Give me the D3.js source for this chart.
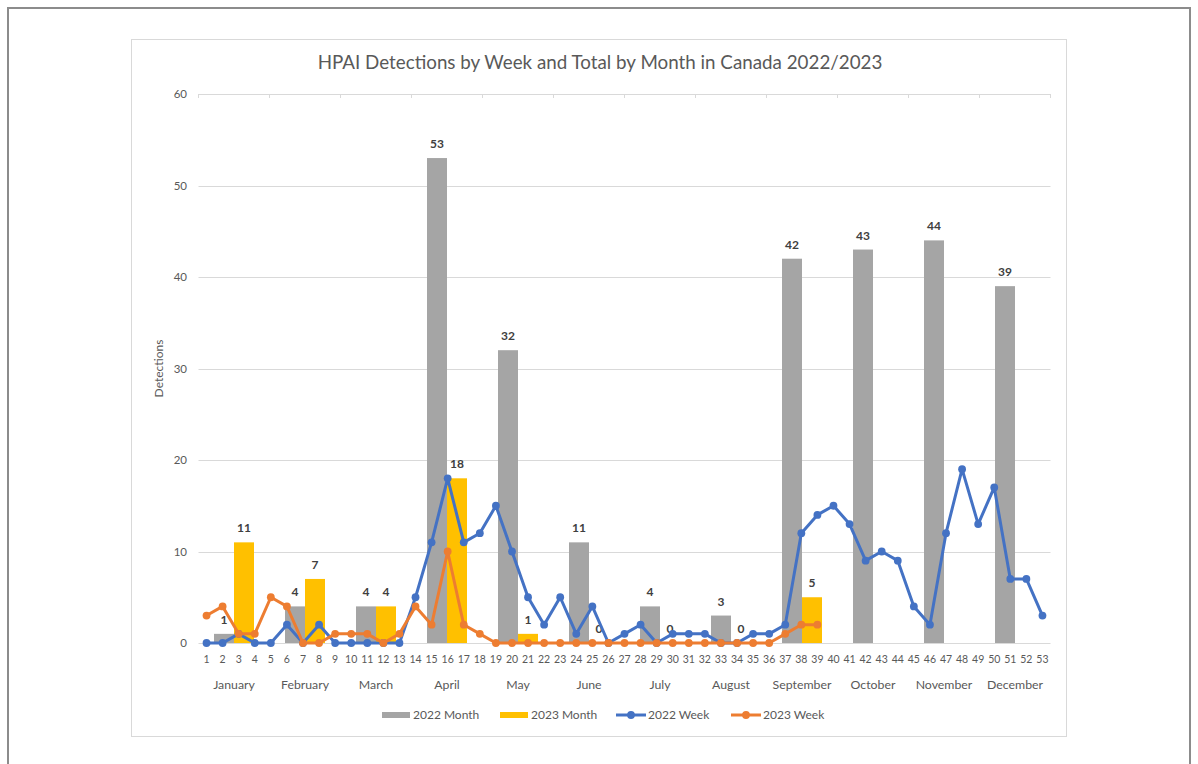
<!DOCTYPE html>
<html>
<head>
<meta charset="utf-8">
<title>HPAI Detections</title>
<script src="https://cdn.jsdelivr.net/npm/d3@7"></script>
<style>
  body { margin: 0; background: #fff; font-family: Lato, "Liberation Sans", sans-serif; }
  svg text { fill: #595959; }
</style>
</head>
<body>
<svg id="chart" width="1198" height="764"></svg>
<script>
// data
var months = ["January", "February", "March", "April", "May", "June", "July",
              "August", "September", "October", "November", "December"];
var month2022 = [1, 4, 4, 53, 32, 11, 4, 3, 42, 43, 44, 39];
var month2023 = [11, 7, 4, 18, 1, 0, 0, 0, 5, null, null, null];
var weeks = d3.range(1, 54);
var week2022 = [0, 0, 1, 0, 0, 2, 0, 2, 0, 0, 0, 0, 0, 5, 11, 18, 11, 12, 15, 10,
                5, 2, 5, 1, 4, 0, 1, 2, 0, 1, 1, 1, 0, 0, 1, 1, 2, 12, 14, 15,
                13, 9, 10, 9, 4, 2, 12, 19, 13, 17, 7, 7, 3];
var week2023 = [3, 4, 1, 1, 5, 4, 0, 0, 1, 1, 1, 0, 1, 4, 2, 10, 2, 1, 0, 0,
                0, 0, 0, 0, 0, 0, 0, 0, 0, 0, 0, 0, 0, 0, 0, 0, 1, 2, 2];
var yTicks = [0, 10, 20, 30, 40, 50, 60];

var colors = { g: "#A5A5A5", y: "#FFC000", b: "#4472C4", o: "#ED7D31" };

(function() {
var svg = d3.select("#chart");

// outer frame and chart area
svg.append("path").attr("d", "M8,764V8H1190V764")
  .attr("fill", "none").attr("stroke", "#8c8c8c").attr("stroke-width", 2);
svg.append("rect").attr("x", 131.5).attr("y", 39.5).attr("width", 935).attr("height", 697)
  .attr("fill", "#fff").attr("stroke", "#d9d9d9");

var pl = 198.5, pr = 1050.5, pt = 94, pb = 643;

var y = d3.scaleLinear().domain([0, 60]).range([pb, pt]);
var xm = d3.scaleBand().domain(months).range([pl, pr]);
var xs = d3.scaleBand().domain(["2022", "2023"]).range([0, xm.bandwidth()]).paddingOuter(0.775);
var xw = d3.scaleBand().domain(weeks).range([pl, pr]);
function wx(w) { return xw(w) + xw.bandwidth() / 2; }

// gridlines
svg.append("g").selectAll("line").data(yTicks).join("line")
  .attr("x1", pl).attr("x2", pr)
  .attr("y1", function(d) { return Math.round(y(d)) + 0.5; })
  .attr("y2", function(d) { return Math.round(y(d)) + 0.5; })
  .attr("stroke", "#d9d9d9");

// secondary axis tick marks on top line
var edges = months.map(function(m) { return xm(m); }).concat([pr]);
svg.append("g").selectAll("line").data(edges).join("line")
  .attr("x1", function(d) { return d; }).attr("x2", function(d) { return d; })
  .attr("y1", pt).attr("y2", pt + 4).attr("stroke", "#d9d9d9");

// y axis labels
svg.append("g").selectAll("text").data(yTicks).join("text")
  .attr("x", 187).attr("y", function(d) { return y(d) + 4; })
  .attr("text-anchor", "end").attr("font-size", 11.5).text(function(d) { return d; });

svg.append("text").attr("transform", "translate(163," + ((pt + pb) / 2) + ") rotate(-90)")
  .attr("text-anchor", "middle").attr("font-size", 12).text("Detections");

// title
svg.append("text").attr("x", 600).attr("y", 69).attr("text-anchor", "middle")
  .attr("font-size", 18.8).text("HPAI Detections by Week and Total by Month in Canada 2022/2023");

// month bars
var barData = [];
months.forEach(function(m, i) {
  barData.push({ m: m, s: "2022", v: month2022[i], c: colors.g });
  if (month2023[i] !== null) barData.push({ m: m, s: "2023", v: month2023[i], c: colors.y });
});
svg.append("g").selectAll("rect").data(barData).join("rect")
  .attr("x", function(d) { return xm(d.m) + xs(d.s); })
  .attr("width", xs.bandwidth())
  .attr("y", function(d) { return y(d.v); })
  .attr("height", function(d) { return pb - y(d.v); })
  .attr("fill", function(d) { return d.c; });

svg.append("g").selectAll("text").data(barData).join("text")
  .attr("x", function(d) { return xm(d.m) + xs(d.s) + xs.bandwidth() / 2; })
  .attr("y", function(d) { return y(d.v) - 10; })
  .attr("text-anchor", "middle").attr("font-size", 12).attr("font-weight", "bold")
  .style("fill", "#404040")
  .text(function(d) { return d.v; });

// weekly lines
function drawLine(vals, col) {
  var pts = vals.map(function(v, i) { return [wx(weeks[i]), y(v)]; });
  var g = svg.append("g");
  g.append("path").attr("d", d3.line()(pts)).attr("fill", "none")
    .attr("stroke", col).attr("stroke-width", 3).attr("stroke-linejoin", "round");
  g.selectAll("circle").data(pts).join("circle")
    .attr("cx", function(d) { return d[0]; }).attr("cy", function(d) { return d[1]; })
    .attr("r", 3.9).attr("fill", col);
}
drawLine(week2022, colors.b);
drawLine(week2023, colors.o);

// week labels and month labels
svg.append("g").selectAll("text").data(weeks).join("text")
  .attr("x", wx).attr("y", 663).attr("text-anchor", "middle").attr("font-size", 10.5)
  .text(function(d) { return d; });
svg.append("g").selectAll("text").data(months).join("text")
  .attr("x", function(d) { return xm(d) + xm.bandwidth() / 2; }).attr("y", 689)
  .attr("text-anchor", "middle").attr("font-size", 12.3).text(function(d) { return d; });

// legend
var legend = [
  { t: "2022 Month", c: colors.g, k: "bar", x: 382 },
  { t: "2023 Month", c: colors.y, k: "bar", x: 500 },
  { t: "2022 Week", c: colors.b, k: "line", x: 616 },
  { t: "2023 Week", c: colors.o, k: "line", x: 731 }
];
var lg = svg.append("g").selectAll("g").data(legend).join("g")
  .attr("transform", function(d) { return "translate(" + d.x + ",715)"; });
lg.filter(function(d) { return d.k === "bar"; }).append("rect")
  .attr("x", 0).attr("y", -3).attr("width", 28).attr("height", 6).attr("fill", function(d) { return d.c; });
lg.filter(function(d) { return d.k === "line"; }).append("line")
  .attr("x1", 0).attr("x2", 30).attr("stroke", function(d) { return d.c; }).attr("stroke-width", 3);
lg.filter(function(d) { return d.k === "line"; }).append("circle")
  .attr("cx", 15).attr("r", 3.9).attr("fill", function(d) { return d.c; });
lg.append("text").attr("x", function(d) { return d.k === "bar" ? 31 : 32; }).attr("y", 4)
  .attr("font-size", 12).text(function(d) { return d.t; });
})();
</script>
</body>
</html>
